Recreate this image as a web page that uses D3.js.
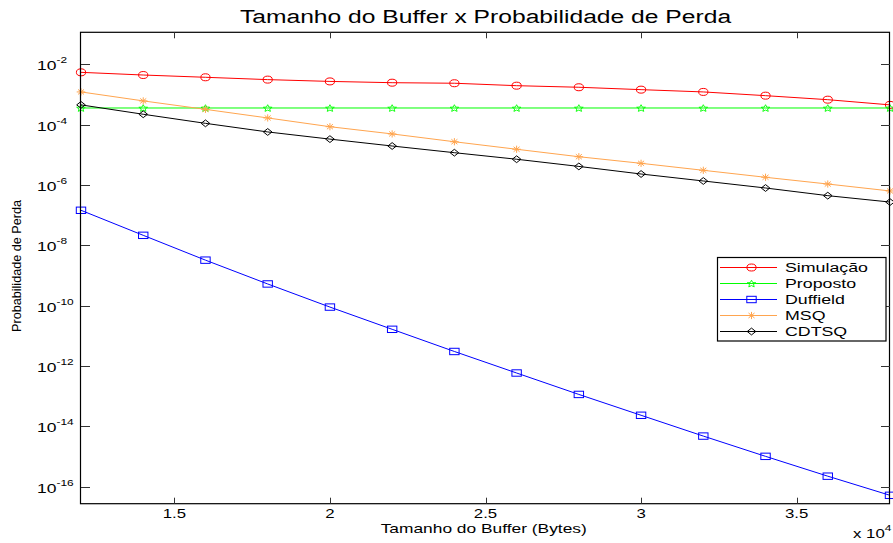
<!DOCTYPE html>
<html>
<head>
<meta charset="utf-8">
<script src="https://cdn.jsdelivr.net/npm/d3@7"></script>
<style>
	body { margin: 0; background: #fff; }
	text { font-family: "Liberation Sans", Arial, sans-serif; fill: #000; }
</style>
</head>
<body>
<div id="chart"></div>
<script>
	/*SVG Size*/
	var width = 893;
	var height = 543;

	/*Data*/
	var buffer = [12000, 14000, 16000, 18000, 20000, 22000, 24000, 26000, 28000, 30000, 32000, 34000, 36000, 38000];
	var simulacao = [5.4e-3, 4.4e-3, 3.7e-3, 3.1e-3, 2.7e-3, 2.45e-3, 2.35e-3, 1.95e-3, 1.73e-3, 1.44e-3, 1.21e-3, 9.1e-4, 6.7e-4, 4.5e-4];
	var proposto = [3.55e-4, 3.55e-4, 3.55e-4, 3.55e-4, 3.55e-4, 3.55e-4, 3.55e-4, 3.55e-4, 3.55e-4, 3.55e-4, 3.55e-4, 3.55e-4, 3.55e-4, 3.55e-4];
	var duffield = [1.44e-7, 2.13e-8, 3.2e-9, 5.2e-10, 8.9e-11, 1.63e-11, 3.0e-12, 5.8e-13, 1.13e-13, 2.3e-14, 4.7e-15, 1.0e-15, 2.2e-16, 5.1e-17];
	var msq = [1.21e-3, 6.1e-4, 3.2e-4, 1.66e-4, 8.5e-5, 4.9e-5, 2.7e-5, 1.52e-5, 8.6e-6, 5.2e-6, 3.05e-6, 1.79e-6, 1.07e-6, 6.3e-7];
	var cdtsq = [4.5e-4, 2.2e-4, 1.1e-4, 5.7e-5, 3.3e-5, 1.95e-5, 1.17e-5, 7.1e-6, 4.1e-6, 2.3e-6, 1.35e-6, 7.9e-7, 4.4e-7, 2.7e-7];

	var series_names = ["Simulação", "Proposto", "Duffield", "MSQ", "CDTSQ"];
	var series_colors = ["#ff0000", "#00ff00", "#0000ff", "#ffa54f", "#000000"];
	var series_markers = ["circle", "star", "square", "asterisk", "diamond"];
	var series_values = [simulacao, proposto, duffield, msq, cdtsq];

	var x_ticks = [15000, 20000, 25000, 30000, 35000];
	var y_ticks = [-2, -4, -6, -8, -10, -12, -14, -16];

	/*Layout*/
	var ax_left = 81, ax_right = 890, ax_top = 32.3, ax_bottom = 503.7;
	var sx = 1.4; // text in the figure is drawn wide

	var x = d3.scaleLinear().domain([12000, 38000]).range([ax_left, ax_right]);
	var y = d3.scaleLog().domain([Math.pow(10, -16.57), Math.pow(10, -0.94)]).range([ax_bottom, ax_top]);

	var svg = d3.select("#chart").append("svg")
				.attr("width", width)
				.attr("height", height);

	/*Series*/
	function marker(g, type, color) {
		if (type == "circle") {
			g.append("ellipse").attr("rx", 4.6).attr("ry", 3.5)
			 .attr("fill", "none").attr("stroke", color).attr("stroke-width", 1);
		} else if (type == "square") {
			g.append("rect").attr("x", -4.7).attr("y", -3.2).attr("width", 9.4).attr("height", 6.4)
			 .attr("fill", "none").attr("stroke", color).attr("stroke-width", 1);
		} else if (type == "diamond") {
			g.append("path").attr("d", "M-4.3,0L0,-3.4L4.3,0L0,3.4Z")
			 .attr("fill", "none").attr("stroke", color).attr("stroke-width", 1);
		} else if (type == "star") {
			var pts = d3.range(10).map(function(i) {
				var r = i % 2 == 0 ? 4.6 : 2.1;
				var a = -Math.PI / 2 + i * Math.PI / 5;
				return [r * Math.cos(a), r * 0.8 * Math.sin(a) + 0.4];
			});
			g.append("path").attr("d", "M" + pts.join("L") + "Z")
			 .attr("fill", "none").attr("stroke", color).attr("stroke-width", 0.9);
		} else if (type == "asterisk") {
			g.append("path").attr("d", "M-4.3,0H4.3M0,-3.6V3.6M-3,-2.5L3,2.5M-3,2.5L3,-2.5")
			 .attr("fill", "none").attr("stroke", color).attr("stroke-width", 1);
		}
	}

	var line = d3.line()
				 .x(function(d) { return x(d[0]); })
				 .y(function(d) { return y(d[1]); });

	var plot = svg.append("g");
	series_values.forEach(function(vals, s) {
		var pts = buffer.map(function(b, i) { return [b, vals[i]]; });
		plot.append("path")
			.attr("d", line(pts))
			.attr("fill", "none")
			.attr("stroke", series_colors[s])
			.attr("stroke-width", 1);
		pts.forEach(function(p) {
			var g = plot.append("g").attr("transform", "translate(" + x(p[0]) + "," + y(p[1]) + ")");
			marker(g, series_markers[s], series_colors[s]);
		});
	});

	/*Axes box and ticks*/
	var axes = svg.append("g");
	axes.append("rect")
		.attr("x", ax_left - 0.5).attr("y", ax_top)
		.attr("width", ax_right - ax_left).attr("height", ax_bottom - ax_top)
		.attr("fill", "none").attr("stroke", "#000").attr("stroke-width", 1.2);

	x_ticks.forEach(function(t) {
		var px = Math.round(x(t)) + 0.5;
		axes.append("line").attr("x1", px).attr("x2", px).attr("y1", ax_bottom).attr("y2", ax_bottom - 6)
			.attr("stroke", "#333");
		axes.append("line").attr("x1", px).attr("x2", px).attr("y1", ax_top).attr("y2", ax_top + 6)
			.attr("stroke", "#333");
		axes.append("text")
			.attr("transform", "translate(" + x(t) + ",518) scale(" + sx + ",1)")
			.attr("text-anchor", "middle")
			.attr("font-size", 12)
			.text(t / 10000);
	});

	y_ticks.forEach(function(e) {
		var py = Math.round(y(Math.pow(10, e))) + 0.5;
		axes.append("line").attr("x1", ax_left).attr("x2", ax_left + 9).attr("y1", py).attr("y2", py)
			.attr("stroke", "#333");
		axes.append("line").attr("x1", ax_right - 9).attr("x2", ax_right).attr("y1", py).attr("y2", py)
			.attr("stroke", "#333");
		var t = axes.append("text")
			.attr("transform", "translate(37," + (py + 5.5) + ") scale(" + sx + ",1)")
			.attr("font-size", 12.5);
		t.append("tspan").text("10");
		t.append("tspan").attr("dy", -7.5).attr("font-size", 8.5).text(e);
	});

	/*Texts*/
	svg.append("text")
		.attr("transform", "translate(485.5,23.3) scale(" + sx + ",1)")
		.attr("text-anchor", "middle")
		.attr("font-size", 17.6)
		.text("Tamanho do Buffer x Probabilidade de Perda");

	svg.append("text")
		.attr("transform", "translate(483.7,533.3) scale(" + sx + ",1)")
		.attr("text-anchor", "middle")
		.attr("font-size", 12.4)
		.text("Tamanho do Buffer (Bytes)");

	svg.append("text")
		.attr("transform", "translate(20.7,266) rotate(-90)")
		.attr("text-anchor", "middle")
		.attr("font-size", 12.5)
		.attr("textLength", 132)
		.attr("lengthAdjust", "spacingAndGlyphs")
		.text("Probabilidade de Perda");

	var exp = svg.append("text")
		.attr("transform", "translate(853,538.3) scale(" + sx + ",1)")
		.attr("font-size", 12);
	exp.append("tspan").text("x 10");
	exp.append("tspan").attr("dy", -7).attr("font-size", 8.5).text("4");

	/*Legend*/
	var legend = svg.append("g").attr("transform", "translate(717,257)");
	legend.append("rect")
		.attr("x", 0.5).attr("y", 0.5).attr("width", 168.5).attr("height", 83.5)
		.attr("fill", "#fff").attr("stroke", "#000").attr("stroke-width", 1.2);

	series_names.forEach(function(name, s) {
		var ry = 10.5 + s * 16;
		legend.append("line")
			.attr("x1", 3).attr("x2", 60).attr("y1", ry).attr("y2", ry)
			.attr("stroke", series_colors[s]).attr("stroke-width", 1);
		var g = legend.append("g").attr("transform", "translate(34.5," + ry + ")");
		marker(g, series_markers[s], series_colors[s]);
		legend.append("text")
			.attr("transform", "translate(68," + (ry + 4.7) + ") scale(" + sx + ",1)")
			.attr("font-size", 12.7)
			.text(name);
	});
</script>
</body>
</html>
